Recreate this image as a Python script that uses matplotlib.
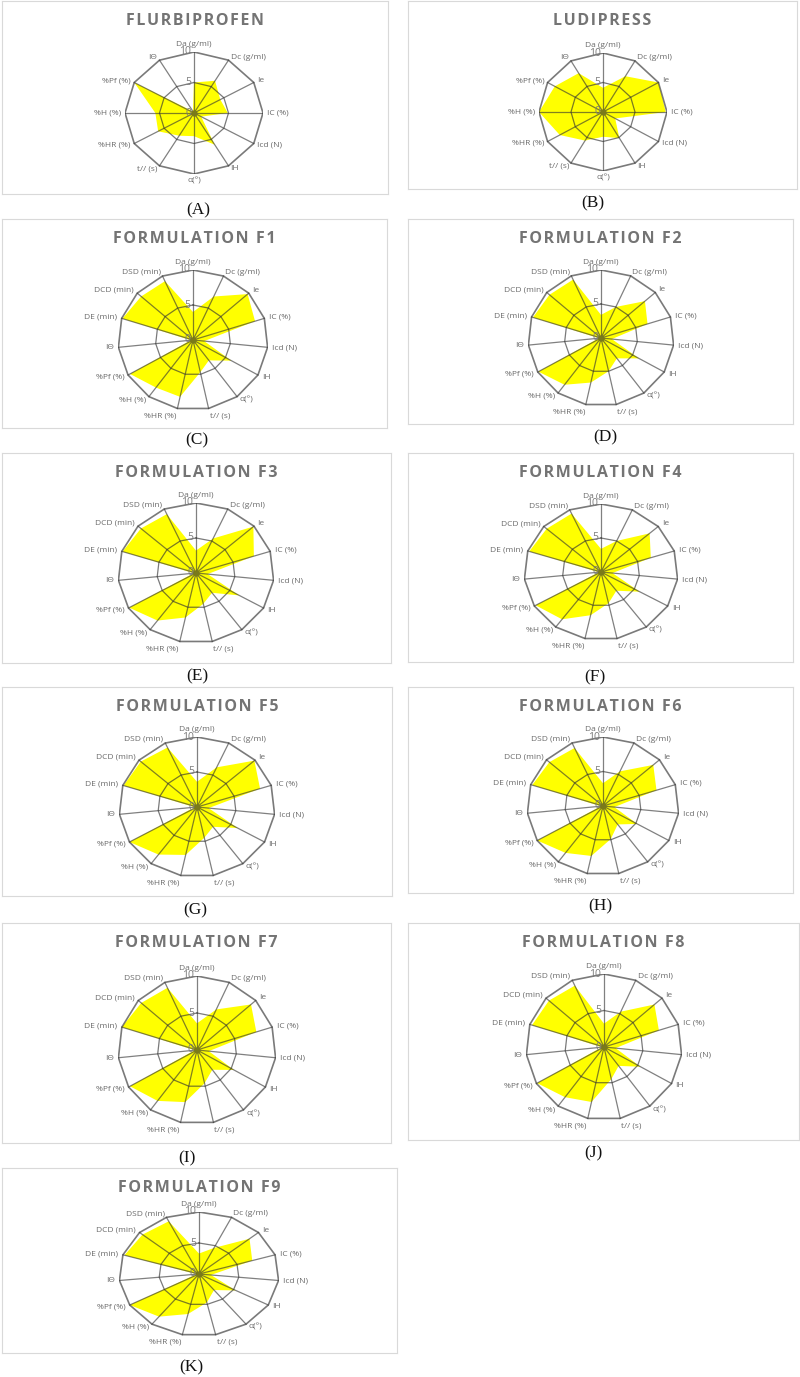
import matplotlib.pyplot as plt
import numpy as np

W, H = 800, 1377

AXES_12 = [
    "Da (g/ml)", "Dc (g/ml)", "Ie", "IC (%)", "Icd (N)", "IH",
    "α(°)", "t// (s)", "%HR (%)", "%H (%)", "%Pf (%)", "IΘ",
]
AXES_15 = AXES_12 + ["DE (min)", "DCD (min)", "DSD (min)"]

RING_TICKS = [0, 5, 10]

flurbiprofen = [5.0, 6.1, 4.4, 4.9, 1.2, 6.0, 3.8, 4.3, 6.0, 5.6, 10.0, 0.3]
ludipress = [4.1, 7.0, 10.0, 9.8, 2.2, 5.1, 4.2, 5.6, 7.8, 10.0, 8.7, 7.6]

f1 = [4.0, 6.8, 9.8, 8.7, 1.5, 5.9, 3.6, 4.7, 8.3, 8.4, 9.7, 0.3, 9.9, 9.3, 9.2]
f2 = [3.4, 5.0, 8.1, 6.7, 1.5, 6.0, 3.7, 5.0, 6.7, 8.5, 9.9, 0.3, 9.8, 9.5, 9.4]
f3 = [3.2, 5.4, 9.9, 7.8, 1.5, 6.4, 3.5, 4.5, 6.5, 8.4, 9.9, 0.3, 9.9, 9.5, 9.2]
f4 = [3.4, 5.0, 8.5, 6.8, 1.5, 5.8, 3.4, 4.7, 6.5, 8.6, 9.8, 0.3, 9.8, 9.5, 9.4]
f5 = [3.6, 6.2, 9.9, 8.5, 1.5, 6.0, 3.5, 4.5, 7.0, 8.4, 10.0, 0.3, 9.9, 9.7, 9.3]
f6 = [3.3, 5.5, 8.9, 7.4, 1.5, 5.2, 3.3, 4.9, 7.4, 8.4, 10.0, 0.3, 9.8, 9.5, 9.2]
f7 = [3.6, 6.0, 9.2, 7.9, 1.5, 5.4, 3.3, 4.6, 7.2, 8.5, 9.8, 0.3, 10.0, 9.5, 9.2]
f8 = [3.2, 5.3, 8.7, 7.4, 1.5, 5.4, 3.2, 4.5, 7.7, 8.5, 9.9, 0.3, 9.7, 9.5, 9.2]
f9 = [3.3, 4.6, 8.5, 7.0, 1.5, 5.3, 3.2, 4.7, 6.6, 8.5, 10.0, 0.3, 9.8, 9.5, 9.3]

TITLES = [
    "FLURBIPROFEN", "LUDIPRESS",
    "FORMULATION F1", "FORMULATION F2", "FORMULATION F3",
    "FORMULATION F4", "FORMULATION F5", "FORMULATION F6",
    "FORMULATION F7", "FORMULATION F8", "FORMULATION F9",
]
PANEL_LABELS = [
    "(A)", "(B)", "(C)", "(D)", "(E)", "(F)",
    "(G)", "(H)", "(I)", "(J)", "(K)",
]
SERIES = [flurbiprofen, ludipress, f1, f2, f3, f4, f5, f6, f7, f8, f9]

# pixel layout: frame box, radar centre, radar radii (x, y), panel label
LAYOUT = [
    ((2, 1, 388, 194), (194, 113), (69, 61), (198, 210)),
    ((408, 1, 797, 189), (603, 112), (64, 59), (593, 203)),
    ((2, 219, 387, 428), (193, 340), (75, 70), (197, 440)),
    ((408, 219, 793, 424), (601, 338), (73, 68), (605, 437)),
    ((2, 453, 391, 663), (196, 573), (78, 70), (197, 676)),
    ((408, 453, 793, 662), (601, 572), (77, 68), (595, 677)),
    ((2, 687, 392, 896), (197, 807), (78, 70), (195, 910)),
    ((408, 687, 793, 893), (603, 806), (76, 69), (600, 906)),
    ((2, 923, 391, 1143), (197, 1050), (79, 74), (187, 1158)),
    ((408, 923, 799, 1140), (604, 1047), (78, 73), (593, 1153)),
    ((2, 1168, 397, 1353), (199, 1274), (80, 62), (191, 1367)),
]

GRID = "#333333"
TEXT = "#6a6a6a"


def px_rect(left, top, width, height):
    return [left / W, 1 - (top + height) / H, width / W, height / H]


def draw_panel(fig, title, labels, values, box, centre, radius, panel):

    x0, y0, x1, y1 = box
    frame = fig.add_axes(px_rect(x0, y0, x1 - x0, y1 - y0))
    frame.set_xticks([])
    frame.set_yticks([])
    for spine in frame.spines.values():
        spine.set_color("#d9d9d9")
        spine.set_linewidth(0.8)

    frame.text(
        0.5,
        1 - 20 / (y1 - y0),
        "\u200a".join(title),
        transform=frame.transAxes,
        ha="center",
        va="center",
        fontsize=11.5,
        fontweight="bold",
        color="#747474",
        family=["Open Sans", "DejaVu Sans"],
    )

    fig.text(
        panel[1][0] / W,
        1 - panel[1][1] / H,
        panel[0],
        ha="center",
        va="center",
        fontsize=12.5,
        family="Liberation Serif",
        color="#111111",
    )

    cx, cy = centre
    rx, ry = radius
    ax = fig.add_axes(px_rect(cx - rx, cy - ry, 2 * rx, 2 * ry))
    ax.set_xlim(-10, 10)
    ax.set_ylim(-10, 10)
    ax.axis("off")

    n = len(labels)
    theta = np.pi / 2 - 2 * np.pi * np.arange(n) / n
    cos = np.cos(theta)
    sin = np.sin(theta)
    vals = np.asarray(values)

    ax.fill(vals * cos, vals * sin, color="#ffff00", lw=0, zorder=1)

    for r in RING_TICKS[1:]:
        ax.plot(
            np.append(r * cos, r * cos[0]),
            np.append(r * sin, r * sin[0]),
            color=GRID,
            alpha=0.65,
            lw=1.2 if r == 10 else 0.9,
            zorder=2,
        )

    for c, s in zip(cos, sin):
        ax.plot([0, 10 * c], [0, 10 * s], color=GRID, alpha=0.62, lw=0.9, zorder=2)

    ax.plot(0, 0, "o", ms=3.5, color="#7a7a1a", zorder=3)

    for r in RING_TICKS:
        ax.text(
            -0.4,
            r,
            str(r),
            ha="right",
            va="center",
            fontsize=7.5,
            color="#7a7a7a",
            family="Open Sans",
            zorder=4,
        )

    for label, c, s in zip(labels, cos, sin):
        ha = "left" if c > 0.05 else "right" if c < -0.05 else "center"
        va = "bottom" if s > 0.95 else "top" if s < -0.95 else "center"
        ax.text(
            10.6 * c,
            10.6 * s,
            label,
            ha=ha,
            va=va,
            fontsize=6,
            color=TEXT,
            family=["Open Sans", "DejaVu Sans"],
        )


def main():

    fig = plt.figure(figsize=(W / 100, H / 100), dpi=100)
    fig.patch.set_facecolor("white")

    for title, values, panel_label, layout in zip(
        TITLES, SERIES, PANEL_LABELS, LAYOUT
    ):
        box, centre, radius, label_pos = layout
        labels = AXES_12 if len(values) == 12 else AXES_15
        draw_panel(
            fig,
            title,
            labels,
            values,
            box,
            centre,
            radius,
            (panel_label, label_pos),
        )

    fig.savefig("out.png", dpi=100, facecolor="white")
    plt.close(fig)


if __name__ == "__main__":
    main()
